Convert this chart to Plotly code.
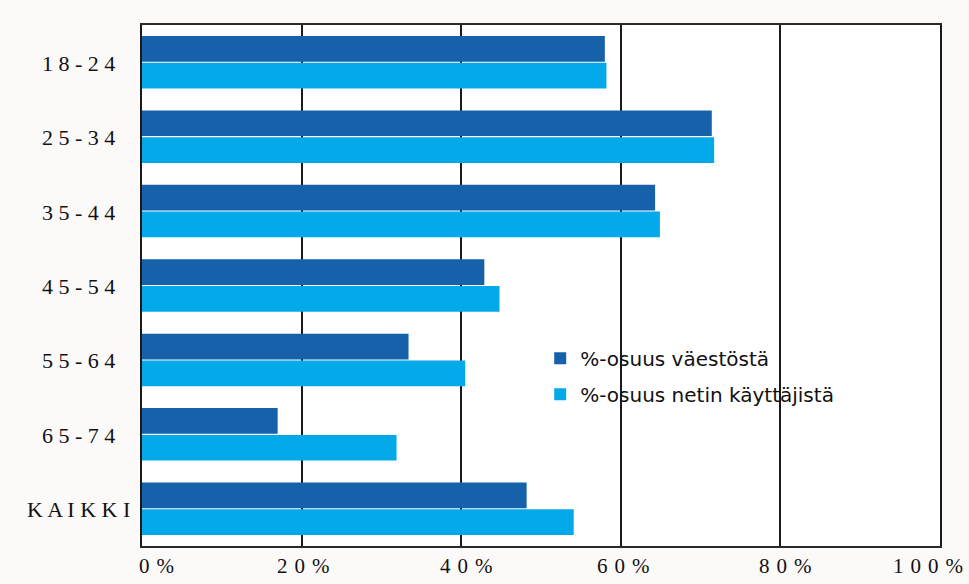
import plotly.graph_objects as go

# Age groups (top to bottom) and the two shares, in percent
age_groups = ["18-24", "25-34", "35-44", "45-54", "55-64", "65-74", "KAIKKI"]
share_population = [58.0, 71.4, 64.3, 42.9, 33.4, 17.0, 48.2]
share_net_users = [58.2, 71.7, 64.9, 44.8, 40.5, 31.9, 54.1]

series_names = ["%-osuus väestöstä", "%-osuus netin käyttäjistä"]
series_colors = ["#1761AB", "#04A9EA"]

x_tick_values = [0, 20, 40, 60, 80, 100]
x_tick_labels = ["0%", "20%", "40%", "60%", "80%", "100%"]
# horizontal nudge (px) of each percentage label; the end ones are pulled inwards
x_label_nudge = [14, 2, 5, 3, 5, -12]

GAP = "\u2004"  # three-per-em space used for letter spacing


def spaced(text, gap):
    """Letter-spaced label text."""
    return gap.join(list(text))


fig = go.Figure()
for name, values, color in zip(series_names, [share_population, share_net_users], series_colors):
    fig.add_trace(go.Bar(
        y=age_groups,
        x=values,
        orientation="h",
        name=name,
        legendgroup=name,
        marker=dict(color=color, line=dict(width=0)),
    ))

serif = "Liberation Serif"

# centred category labels to the left of the plot
for g in age_groups:
    fig.add_annotation(
        xref="paper", yref="y", x=-0.0802, y=g,
        text=spaced(g, " "), showarrow=False,
        xanchor="center", yanchor="middle", yshift=-1,
        font=dict(family=serif, size=22, color="#111111"),
    )

# percentage labels under the plot
for v, lab, dx in zip(x_tick_values, x_tick_labels, x_label_nudge):
    fig.add_annotation(
        xref="x", yref="paper", x=v, y=0,
        text=spaced(lab, GAP), showarrow=False,
        xanchor="center", yanchor="top", xshift=dx, yshift=-6,
        font=dict(family=serif, size=21, color="#111111"),
    )

fig.update_layout(
    width=969,
    height=584,
    margin=dict(l=142, r=29, t=25, b=38, autoexpand=False),
    paper_bgcolor="#fcf9f9",
    plot_bgcolor="#ffffff",
    barmode="group",
    bargap=0.28,
    bargroupgap=0.04,
    showlegend=True,
    legend=dict(
        x=0.499, y=0.398, xanchor="left", yanchor="top",
        bgcolor="rgba(0,0,0,0)",
        font=dict(family="DejaVu Sans", size=20, color="#111111"),
        traceorder="grouped",
        tracegroupgap=7,
        itemwidth=30,
    ),
    xaxis=dict(
        range=[0, 100],
        tickvals=x_tick_values,
        showticklabels=False,
        automargin=False,
        showgrid=True, gridcolor="#1a1a1a", gridwidth=2,
        zeroline=False,
        showline=True, linecolor="#2a2a2a", linewidth=2, mirror=True,
        ticks="",
    ),
    yaxis=dict(
        autorange="reversed",
        showticklabels=False,
        automargin=False,
        showgrid=False,
        zeroline=False,
        showline=True, linecolor="#1a1a1a", linewidth=2, mirror=True,
        ticks="",
    ),
)

fig.write_html("out.html")
